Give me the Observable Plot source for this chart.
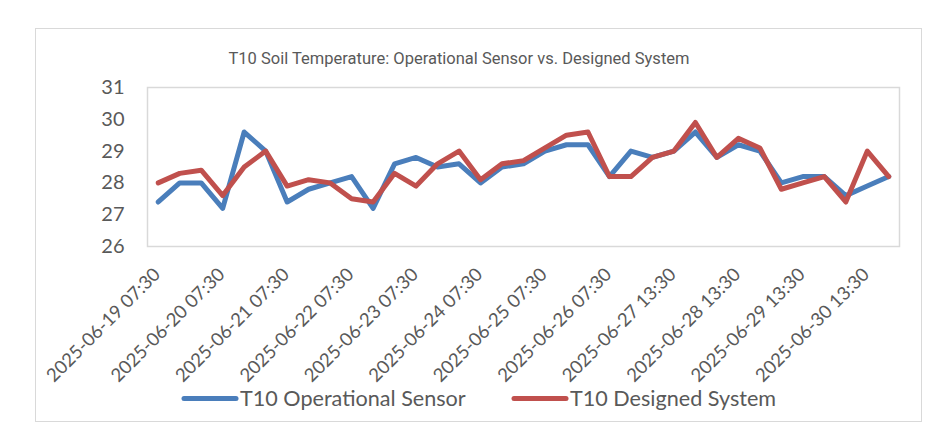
<!DOCTYPE html>
<html>
<head>
<meta charset="utf-8">
<script src="https://cdn.jsdelivr.net/npm/d3@7"></script>
<script src="https://cdn.jsdelivr.net/npm/@observablehq/plot@0.6"></script>
<style>
  html, body { margin: 0; padding: 0; background: #fff; }
  #chart { position: relative; width: 947px; height: 439px; overflow: hidden; }
  #border { position: absolute; left: 35px; top: 28px; width: 887px; height: 394px;
            border: 1.5px solid #d9d9d9; box-sizing: border-box; }
  #overlay { position: absolute; left: 0; top: 0; pointer-events: none; }
  #chart > svg.plot { position: absolute; left: 0; top: 0; }
</style>
</head>
<body>
<div id="chart">
  <div id="border"></div>
</div>
<script>
// Category tick labels (one every third reading)
const tickLabels = [
  "2025-06-19 07:30", "2025-06-20 07:30", "2025-06-21 07:30", "2025-06-22 07:30",
  "2025-06-23 07:30", "2025-06-24 07:30", "2025-06-25 07:30", "2025-06-26 07:30",
  "2025-06-27 13:30", "2025-06-28 13:30", "2025-06-29 13:30", "2025-06-30 13:30"
];
const tickStep = 3;

// T10 soil temperature (°C), one value per reading
const operational = [
  27.4, 28.0, 28.0, 27.2, 29.6, 29.0, 27.4, 27.8, 28.0, 28.2,
  27.2, 28.6, 28.8, 28.5, 28.6, 28.0, 28.5, 28.6, 29.0, 29.2,
  29.2, 28.2, 29.0, 28.8, 29.0, 29.6, 28.8, 29.2, 29.0, 28.0,
  28.2, 28.2, 27.6, 27.9, 28.2
];
const designed = [
  28.0, 28.3, 28.4, 27.6, 28.5, 29.0, 27.9, 28.1, 28.0, 27.5,
  27.4, 28.3, 27.9, 28.6, 29.0, 28.1, 28.6, 28.7, 29.1, 29.5,
  29.6, 28.2, 28.2, 28.8, 29.0, 29.9, 28.8, 29.4, 29.1, 27.8,
  28.0, 28.2, 27.4, 29.0, 28.2
];
const yTicks = [26, 27, 28, 29, 30, 31];

const seriesNames = ["T10 Operational Sensor", "T10 Designed System"];
const seriesColors = ["#4a7ebb", "#c0504d"];

const opRows = operational.map((v, i) => ({i, v}));
const dsRows = designed.map((v, i) => ({i, v}));
const tickIdx = tickLabels.map((_, k) => k * tickStep);

const textColor = "#595959";
const font = "Lato, 'Open Sans', sans-serif";

const chart = Plot.plot({
  width: 947,
  height: 439,
  marginLeft: 147,
  marginRight: 48,
  marginTop: 87,
  marginBottom: 193,
  style: {fontFamily: font, color: textColor, background: "transparent", overflow: "visible"},
  x: {domain: [-0.5, operational.length - 0.5], axis: null},
  y: {domain: [26, 31], axis: null},
  marks: [
    Plot.frame({stroke: "#d9d9d9", strokeWidth: 1.5}),
    Plot.axisY({ticks: yTicks, tickSize: 0, tickPadding: 23, fontSize: 20, fill: textColor,
                tickFormat: d => String(d), label: null}),
    Plot.axisX({ticks: tickIdx, tickSize: 0, tickPadding: 25, tickRotate: -45, dx: -1,
                tickFormat: i => tickLabels[i / tickStep], fontSize: 18.5, fill: textColor,
                label: null}),
    Plot.line(opRows, {x: "i", y: "v", stroke: seriesColors[0], strokeWidth: 5,
                       strokeLinejoin: "round", strokeLinecap: "round"}),
    Plot.line(dsRows, {x: "i", y: "v", stroke: seriesColors[1], strokeWidth: 5,
                       strokeLinejoin: "round", strokeLinecap: "round"})
  ]
});
document.getElementById("chart").appendChild(chart);

// Title and legend drawn as plain SVG text above the plot
const overlay = d3.select("#chart").append("svg")
  .attr("id", "overlay").attr("width", 947).attr("height", 439);

overlay.append("text")
  .attr("x", 459).attr("y", 64)
  .attr("text-anchor", "middle")
  .attr("font-family", "Roboto, sans-serif")
  .attr("font-size", 16.5)
  .attr("fill", textColor)
  .text("T10 Soil Temperature: Operational Sensor vs. Designed System");

const legendX = [182, 512];
seriesNames.forEach((name, k) => {
  const g = overlay.append("g").attr("transform", `translate(${legendX[k]},0)`);
  g.append("line")
    .attr("x1", 2).attr("x2", 54).attr("y1", 398.5).attr("y2", 398.5)
    .attr("stroke", seriesColors[k]).attr("stroke-width", 5).attr("stroke-linecap", "round");
  g.append("text")
    .attr("x", 58).attr("y", 406)
    .attr("font-family", font).attr("font-size", 21.6)
    .attr("fill", textColor)
    .text(name);
});
</script>
</body>
</html>
